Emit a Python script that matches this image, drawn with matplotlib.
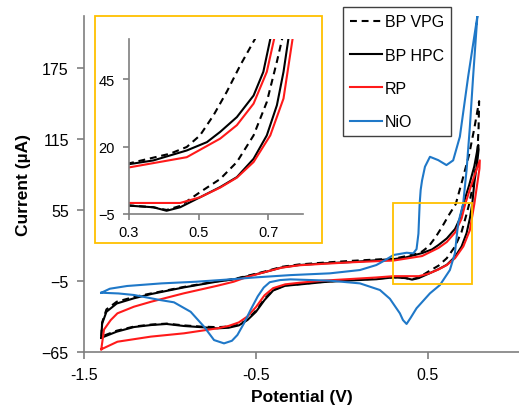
import matplotlib
matplotlib.use("Agg")
import matplotlib.pyplot as plt
from matplotlib.patches import Rectangle

plt.rcParams['font.family'] = ['Liberation Sans', 'DejaVu Sans']

# ---------------- data ----------------
# each curve: forward branch left->right, then return branch right->left
vpg_v = [-1.40, -1.395, -1.37, -1.31, -1.21, -1.11, -0.92, -0.73, -0.63, -0.55, -0.45, -0.35, -0.25, -0.10, 0.05,
         0.24, 0.30, 0.418, 0.466, 0.504, 0.543, 0.581, 0.62, 0.662, 0.70, 0.74, 0.77, 0.798,
         0.795, 0.787, 0.765, 0.74, 0.725, 0.696, 0.658, 0.61, 0.562, 0.504, 0.447, 0.408, 0.37, 0.30,
         0.20, 0.05, -0.10, -0.24, -0.33, -0.40, -0.45, -0.50, -0.55, -0.60, -0.66, -0.725, -0.82,
         -0.92, -1.02, -1.11, -1.21, -1.31, -1.40]
vpg_i = [-52, -40, -29, -22.5, -18.5, -15.5, -10, -5.3, -3.4, -0.6, 3, 7, 9, 10.6, 12,
         13.5, 13.8, 17.4, 19.9, 24.2, 31.7, 40.4, 50.3, 60, 80, 102, 124, 147,
         125, 100, 78, 60, 51.6, 36.6, 24.2, 14.3, 8, 3.1, -2, -3.5, -2.5, -1.8,
         -3, -4.2, -5.5, -7.5, -8.7, -12.5, -20, -30, -37.5, -42, -43.5, -44, -43.5,
         -42.5, -41, -41.8, -43.5, -47, -52]

hpc_v = [-1.40, -1.395, -1.37, -1.31, -1.21, -1.11, -0.92, -0.73, -0.63, -0.55, -0.45, -0.35, -0.25, -0.10, 0.05,
         0.24, 0.30, 0.37, 0.466, 0.524, 0.562, 0.61, 0.658, 0.686, 0.706, 0.74, 0.77, 0.793,
         0.795, 0.785, 0.77, 0.758, 0.744, 0.725, 0.696, 0.658, 0.61, 0.562, 0.504, 0.447, 0.408, 0.37,
         0.30, 0.20, 0.05, -0.10, -0.24, -0.33, -0.40, -0.45, -0.50, -0.55, -0.60, -0.66, -0.725,
         -0.82, -0.92, -1.02, -1.11, -1.21, -1.31, -1.40]
hpc_i = [-53, -41, -31, -24, -19.6, -16, -10.4, -5.6, -3.6, -1, 2.5, 6.5, 8.5, 10, 11,
         13, 13.5, 14.9, 18.6, 21.7, 25.5, 31, 39, 47.8, 60, 76, 92, 110,
         106, 93, 78, 60, 47.8, 35.4, 24.2, 15.5, 8.7, 5, 1.2, -2.5, -3.8, -2.5,
         -1.9, -3.5, -4.5, -5.8, -7.8, -9, -13, -21, -31, -38, -42.5, -44.5, -45,
         -44, -43, -41.3, -42.2, -43.9, -47.8, -53]

rp_v = [-1.40, -1.384, -1.345, -1.306, -1.21, -1.11, -0.92, -0.725, -0.63, -0.55, -0.45, -0.35, -0.25, -0.10, 0.05,
        0.24, 0.30, 0.466, 0.562, 0.61, 0.658, 0.696, 0.717, 0.75, 0.78, 0.802,
        0.80, 0.79, 0.78, 0.77, 0.744, 0.706, 0.658, 0.61, 0.562, 0.504, 0.447, 0.30,
        0.20, 0.05, -0.10, -0.244, -0.33, -0.40, -0.45, -0.50, -0.55, -0.60, -0.66, -0.725,
        -0.919, -1.112, -1.306, -1.40]
rp_i = [-62.7, -46, -38, -32.3, -26.7, -22.5, -15.4, -9, -5.6, -1.5, 2.5, 6.3, 8.3, 9.6, 10.8,
        12, 12.3, 16.1, 23, 28, 36, 47.8, 60, 75, 88, 97,
        90, 80, 70, 60, 37.9, 24.2, 14.3, 8.5, 4.8, 1.2, -0.9, -0.9,
        -2, -3.3, -4.6, -6.4, -7.8, -11, -17, -27, -35, -40, -43, -45,
        -49.2, -52, -56.3, -62.7]

nio_v = [-1.40, -1.35, -1.25, -1.05, -0.85, -0.65, -0.50, -0.30, -0.07, 0.105, 0.20, 0.25, 0.30, 0.376,
         0.415, 0.434, 0.445, 0.452, 0.458, 0.466, 0.483, 0.512, 0.56, 0.608, 0.647, 0.686, 0.734, 0.788,
         0.782, 0.763, 0.744, 0.725, 0.705, 0.676, 0.657, 0.628, 0.57, 0.512, 0.434, 0.40, 0.376, 0.355,
         0.337, 0.279, 0.221, 0.105, -0.07, -0.30, -0.36, -0.42, -0.455, -0.49, -0.53, -0.57, -0.608,
         -0.64, -0.686, -0.744, -0.802, -0.88, -0.977, -1.06, -1.21, -1.30, -1.40]
nio_i = [-14.9, -11.5, -9.2, -7, -5.6, -3.6, -1.9, 0, 1.5, 4.3, 8.5, 12.5, 17, 18.9,
         18.4, 22, 35, 60, 72, 80, 91.6, 100, 97.2, 93, 97, 117, 167.6, 219,
         207, 167.6, 125, 88.8, 60, 43.8, 18.4, 4.3, -8.4, -15.4, -28, -36, -41.3, -38,
         -32.3, -20, -12.6, -7, -4.7, -3.6, -4.2, -6, -10.5, -18, -29, -40.8, -50.6,
         -55.5, -57.7, -54.9, -43.6, -31, -23, -21, -16.8, -15.5, -14.9]

x_ticks = [-1.5, -0.5, 0.5]
y_ticks = [-65, -5, 55, 115, 175]
inset_x_ticks = [0.3, 0.5, 0.7]
inset_y_ticks = [-5, 20, 45]

# ---------------- figure ----------------
fig = plt.figure(figsize=(5.19, 4.10), dpi=100)
ax = fig.add_axes([0.162, 0.139, 0.838, 0.8195])

gold = '#FFC000'
red = '#FF1A1A'
blue = '#1F78C8'
spine_col = '#7F7F7F'
dash = (0, (3.3, 2.3))

l1, = ax.plot(vpg_v, vpg_i, color='black', lw=1.5, ls=dash, label='BP VPG')
l2, = ax.plot(hpc_v, hpc_i, color='black', lw=1.5, label='BP HPC')
l3, = ax.plot(rp_v, rp_i, color=red, lw=1.5, label='RP')
l4, = ax.plot(nio_v, nio_i, color=blue, lw=1.5, label='NiO')

ax.add_patch(Rectangle((0.297, -7.5), 0.459, 68.5, fill=False, edgecolor=gold, lw=1.3, zorder=5))

ax.set_xlim(-1.5, 1.03)
ax.set_ylim(-65, 219)
ax.set_xticks(x_ticks)
ax.set_yticks(y_ticks)
ax.set_xticklabels([str(t) for t in x_ticks])
ax.spines['top'].set_visible(False)
ax.spines['right'].set_visible(False)
for s in ['left', 'bottom']:
    ax.spines[s].set_color(spine_col)
    ax.spines[s].set_linewidth(1.2)
ax.tick_params(direction='out', length=5, width=1.2, color=spine_col, labelsize=11.5, pad=6)
ax.set_xlabel('Potential (V)', fontsize=12.5, fontweight='bold', labelpad=5)
ax.set_ylabel('Current (µA)', fontsize=12.5, fontweight='bold', labelpad=8)

# gold frame around the inset
fig.patches.append(Rectangle((95 / 519, 1 - 244 / 410), 227 / 519, 227 / 410, transform=fig.transFigure,
                             fill=True, facecolor='white', edgecolor=gold, lw=1.3, zorder=3))

ins = fig.add_axes([129 / 519, 1 - 215 / 410, 174 / 519, 175 / 410], zorder=4)
ins.plot(vpg_v, vpg_i, color='black', lw=1.5, ls=dash)
ins.plot(hpc_v, hpc_i, color='black', lw=1.5)
ins.plot(rp_v, rp_i, color=red, lw=1.5)
ins.set_xlim(0.3, 0.8)
ins.set_ylim(-5, 60)
ins.set_xticks(inset_x_ticks)
ins.set_yticks(inset_y_ticks)
ins.set_xticklabels([str(t) for t in inset_x_ticks])
ins.spines['top'].set_visible(False)
ins.spines['right'].set_visible(False)
for s in ['left', 'bottom']:
    ins.spines[s].set_color(spine_col)
    ins.spines[s].set_linewidth(1.2)
ins.tick_params(direction='out', length=4, width=1.2, color=spine_col, labelsize=10.5, pad=4)
ins.tick_params(axis='y', pad=6)
ins.patch.set_alpha(0)

leg = fig.legend(handles=[l1, l2, l3, l4], loc='upper left', bbox_to_anchor=(343 / 519, 1 - 8 / 410),
                 fontsize=11.5, frameon=True, fancybox=False, edgecolor='#404040', framealpha=1,
                 handlelength=2.0, handletextpad=0.15, labelspacing=1.15, borderpad=0.45, borderaxespad=0)
leg.get_frame().set_linewidth(1.0)

fig.savefig('out.png', dpi=100)
